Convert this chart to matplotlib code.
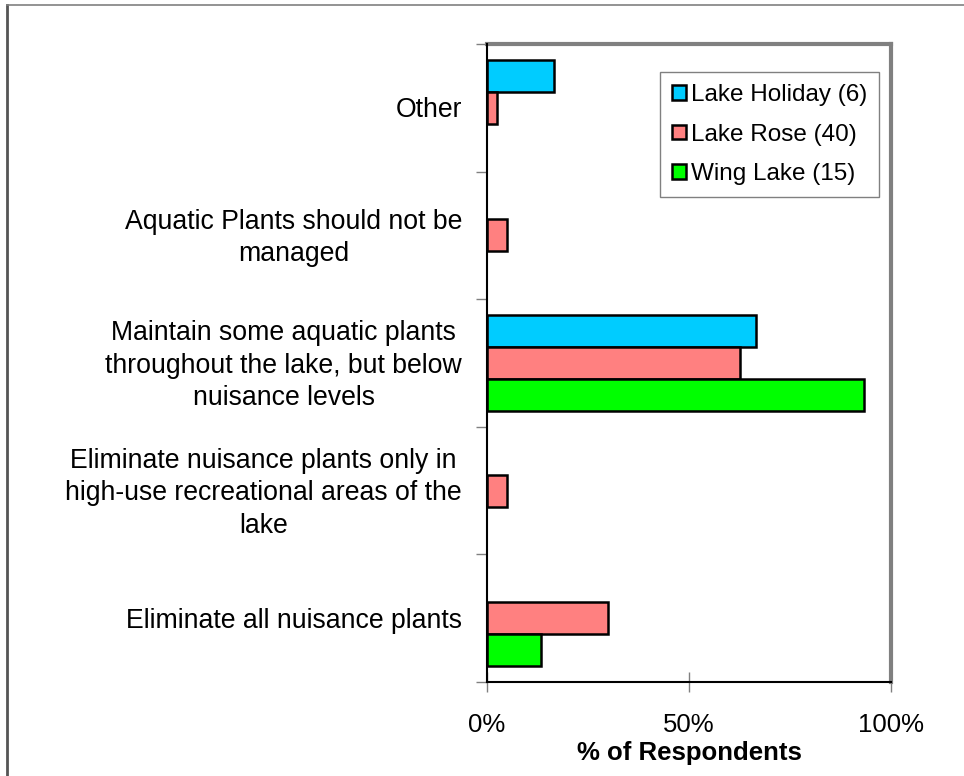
import matplotlib
matplotlib.use("Agg")
import matplotlib.pyplot as plt
import numpy as np
from matplotlib.patches import Patch
from matplotlib.lines import Line2D
from matplotlib.ticker import PercentFormatter

plt.rcParams['font.family'] = ['Liberation Sans', 'DejaVu Sans']

categories = [
    "Eliminate all nuisance plants",
    "Eliminate nuisance plants only in\nhigh-use recreational areas of the\nlake",
    "Maintain some aquatic plants\nthroughout the lake, but below\nnuisance levels",
    "Aquatic Plants should not be\nmanaged",
    "Other",
]
series_names = ["Lake Holiday (6)", "Lake Rose (40)", "Wing Lake (15)"]
lake_holiday = [0.0, 0.0, 66.7, 0.0, 16.7]
lake_rose = [30.0, 5.0, 62.5, 5.0, 2.5]
wing_lake = [13.3, 0.0, 93.3, 0.0, 0.0]
colors = ["#00CCFF", "#FF8080", "#00FF00"]
x_ticks = [0, 50, 100]

fig = plt.figure(figsize=(9.64, 7.76), dpi=100)
ax = fig.add_axes([487/964, 1-682/776, 404/964, 638/776])

y = np.arange(len(categories))
h = 0.25
for i, (vals, c) in enumerate(zip([lake_holiday, lake_rose, wing_lake], colors)):
    vals = np.asarray(vals)
    keep = vals > 0
    ax.barh((y + (1 - i) * h)[keep], vals[keep], height=h, color=c,
            edgecolor="black", linewidth=1.8, zorder=3)

ax.set_xlim(0, 100)
ax.set_ylim(-0.5, len(categories) - 0.5)
ax.set_xticks(x_ticks)
ax.xaxis.set_major_formatter(PercentFormatter(decimals=0))
ax.tick_params(axis='x', direction='inout', length=14, width=1, color='#808080',
               labelsize=18.5, pad=15)

# category boundaries carry the ticks; labels sit at the centres
ax.set_yticks(np.arange(-0.5, len(categories), 1.0))
ax.set_yticklabels([])
ax.tick_params(axis='y', direction='out', length=8, width=1, color='#808080')
for yi, lab in zip(y, categories):
    ax.text(-25/404*100, yi - 0.02, lab, ha='right', va='center', multialignment='center',
            fontsize=19.2, linespacing=1.32, transform=ax.transData, clip_on=False)

for side in ['top', 'right']:
    ax.spines[side].set_color('#808080')
    ax.spines[side].set_linewidth(3)
for side in ['left', 'bottom']:
    ax.spines[side].set_color('black')
    ax.spines[side].set_linewidth(1.5)
    ax.spines[side].set_zorder(4)

ax.set_xlabel("% of Respondents", fontsize=18.5, fontweight='bold', labelpad=3)

handles = [Patch(facecolor=c, edgecolor='black', linewidth=1.8) for c in colors]
leg = ax.legend(handles, series_names, loc='upper right',
                bbox_to_anchor=(879/964, 1-72/776), bbox_transform=fig.transFigure,
                fontsize=17.5, frameon=True, fancybox=False, framealpha=1,
                edgecolor='#808080', handlelength=0.55, handleheight=0.55,
                handletextpad=0.2, labelspacing=0.72, borderpad=0.5,
                borderaxespad=0)
leg.get_frame().set_linewidth(1)

# outer frame of the chart area
fig.add_artist(Line2D([7/964, 7/964], [0, 1-5/776], color='#555555', linewidth=2,
                      transform=fig.transFigure))
fig.add_artist(Line2D([7/964, 1], [1-5/776, 1-5/776], color='#808080', linewidth=1.2,
                      transform=fig.transFigure))

fig.savefig("out.png", dpi=100, facecolor='white')
